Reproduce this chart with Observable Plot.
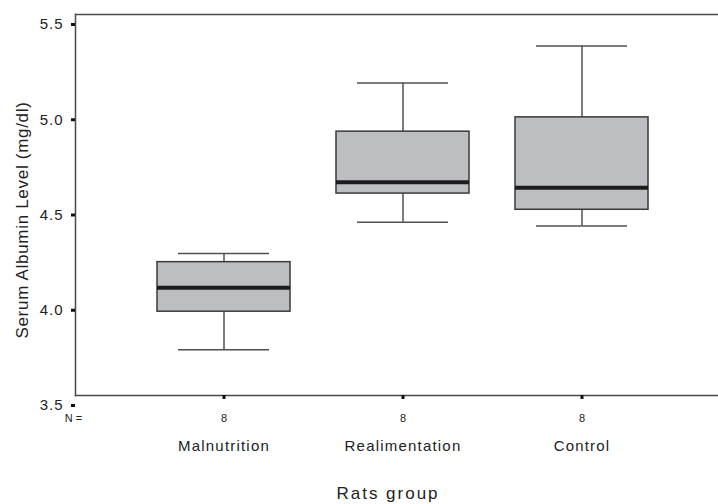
<!DOCTYPE html>
<html>
<head>
<meta charset="utf-8">
<script src="https://cdn.jsdelivr.net/npm/d3@7"></script>
<script src="https://cdn.jsdelivr.net/npm/@observablehq/plot@0.6"></script>
<style>
  html, body { margin: 0; padding: 0; background: #fff; }
  #chart svg { display: block; }
  #chart [aria-label="y-axis tick label"] text { letter-spacing: 1px; }
  #chart [aria-label="x-axis tick label"] text { letter-spacing: 1.2px; }
  #chart .ytitle text { letter-spacing: 0.7px; }
  #chart .xtitle text { letter-spacing: 2px; }
</style>
</head>
<body>
<div id="chart"></div>
<script>
const categories = ["Malnutrition", "Realimentation", "Control"];
const whiskerLow  = [3.74, 4.41, 4.39];
const quart1      = [3.94, 4.56, 4.475];
const medians     = [4.065, 4.62, 4.59];
const quart3      = [4.20, 4.885, 4.96];
const whiskerHigh = [4.245, 5.14, 5.335];
const nValues     = [8, 8, 8];
const yTicks      = [3.5, 4.0, 4.5, 5.0, 5.5];
const yTitle = "Serum Albumin Level (mg/dl)";
const xTitle = "Rats group";
const nLabel = "N =";

const rows = categories.map((c, i) => ({
  group: c, low: whiskerLow[i], q1: quart1[i], med: medians[i],
  q3: quart3[i], high: whiskerHigh[i], n: nValues[i]
}));

const lineColor = "#4a4a4a";

const chart = Plot.plot({
  width: 718,
  height: 504,
  marginTop: 14,
  marginBottom: 109,
  marginLeft: 75,
  marginRight: 0,
  style: { fontFamily: "'Liberation Sans', Arial, sans-serif", background: "#fff", color: "#222" },
  x: { type: "band", domain: categories, paddingInner: 0.259, paddingOuter: 0.42, align: 0.538, label: null },
  y: { domain: [yTicks[0], yTicks[yTicks.length - 1]], label: null },
  marks: [
    Plot.frame({ anchor: "top", stroke: lineColor, strokeWidth: 1.5 }),
    Plot.frame({ anchor: "bottom", stroke: lineColor, strokeWidth: 1.5 }),
    Plot.frame({ anchor: "left", stroke: lineColor, strokeWidth: 1.5 }),
    Plot.axisY({ ticks: yTicks, tickFormat: d3.format(".1f"), tickSize: 4, tickPadding: 8, strokeWidth: 3, stroke: "#111", fontSize: 15, dy: 10, label: null }),
    Plot.axisX({ tickSize: 4, tickPadding: 41, strokeWidth: 3, stroke: "#111", fontSize: 15, label: null }),
    Plot.ruleX(rows, { x: "group", y1: "low", y2: "high", stroke: "#505050", strokeWidth: 1.5 }),
    Plot.tickY(rows, { x: "group", y: "low", stroke: "#505050", strokeWidth: 1.5, insetLeft: 21, insetRight: 21 }),
    Plot.tickY(rows, { x: "group", y: "high", stroke: "#505050", strokeWidth: 1.5, insetLeft: 21, insetRight: 21 }),
    Plot.barY(rows, { x: "group", y1: "q1", y2: "q3", fill: "#bdbec2", stroke: "#3a3a3a", strokeWidth: 1.5 }),
    Plot.tickY(rows, { x: "group", y: "med", stroke: "#1c1c1c", strokeWidth: 4 }),
    Plot.text(rows, { x: "group", text: "n", frameAnchor: "bottom", dy: 26, fontSize: 11, fill: "#222" }),
    Plot.text([nLabel], { text: d => d, frameAnchor: "bottom-left", dx: -2, dy: 26, fontSize: 11, textAnchor: "middle", fill: "#222" }),
    Plot.text([yTitle], { text: d => d, frameAnchor: "left", textAnchor: "middle", rotate: -90, dx: -53, dy: 15, fontSize: 17, fill: "#222", className: "ytitle" }),
    Plot.text([xTitle], { text: d => d, frameAnchor: "bottom", textAnchor: "middle", dx: -9, dy: 103, fontSize: 17, fill: "#222", className: "xtitle" })
  ]
});
document.getElementById("chart").appendChild(chart);
</script>
</body>
</html>
